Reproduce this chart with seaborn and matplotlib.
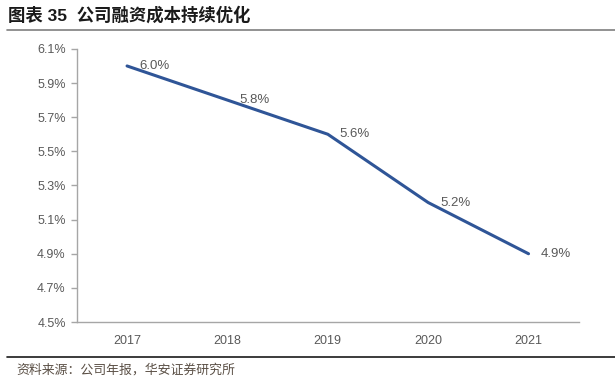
import numpy as np
import pandas as pd
import seaborn as sns
import matplotlib.pyplot as plt
from matplotlib.lines import Line2D

years = ['2017', '2018', '2019', '2020', '2021']
cost = [6.0, 5.8, 5.6, 5.2, 4.9]
yticks = [4.5, 4.7, 4.9, 5.1, 5.3, 5.5, 5.7, 5.9, 6.1]

title = '图表 35  公司融资成本持续优化'
source = '资料来源：公司年报，华安证券研究所'

sns.set_style('white')
plt.rcParams['font.family'] = ['Liberation Sans', 'Noto Sans CJK SC']

df = pd.DataFrame({'year': years, 'cost': cost})

fig = plt.figure(figsize=(6.15, 3.88), dpi=100)
ax = fig.add_axes([0.125, 0.170, 0.816, 0.704])

sns.lineplot(data=df, x='year', y='cost', ax=ax, color='#2F5597', linewidth=2.2, sort=False)

ax.set_xlim(-0.5, len(years) - 0.5)
ax.set_ylim(4.5, 6.1)
ax.set_yticks(yticks)
ax.set_yticklabels([f'{v:.1f}%' for v in yticks])
ax.set_xticks(range(len(years)))
ax.set_xticklabels(years)
ax.set_xticks(np.arange(-0.5, len(years)), minor=True)
ax.tick_params(axis='x', which='major', length=0, pad=9, labelsize=9, labelcolor='#595959')
ax.tick_params(axis='x', which='minor', length=4, color='#a6a6a6', width=1)
ax.tick_params(axis='y', length=4, color='#a6a6a6', width=1, pad=4, labelsize=9, labelcolor='#595959')
ax.tick_params(axis='y', left=True)
ax.set_xlabel('')
ax.set_ylabel('')
for side in ['top', 'right']:
    ax.spines[side].set_visible(False)
for side in ['left', 'bottom']:
    ax.spines[side].set_color('#a6a6a6')
    ax.spines[side].set_linewidth(1)

for i, v in enumerate(cost):
    ax.annotate(f'{v:.1f}%', (i, v), xytext=(12, 0), textcoords='offset pixels',
                va='center', ha='left', fontsize=9.5, color='#595959')

# header / footer
fig.text(0.013, 0.962, title, fontsize=12.5, fontweight='bold', color='#1a1a1a',
         va='center', ha='left', family=['Liberation Sans', 'Noto Sans CJK SC'])
fig.add_artist(Line2D([0.011, 1.0], [0.923, 0.923], color='#7f7f7f', linewidth=1.2, transform=fig.transFigure))
fig.add_artist(Line2D([0.011, 1.0], [0.080, 0.080], color='#1a1a1a', linewidth=1.2, transform=fig.transFigure))
fig.text(0.026, 0.046, source, fontsize=9.3, color='#5a4f45', va='center', ha='left',
         family=['Noto Sans CJK SC'])

fig.savefig('out.png', dpi=100)
